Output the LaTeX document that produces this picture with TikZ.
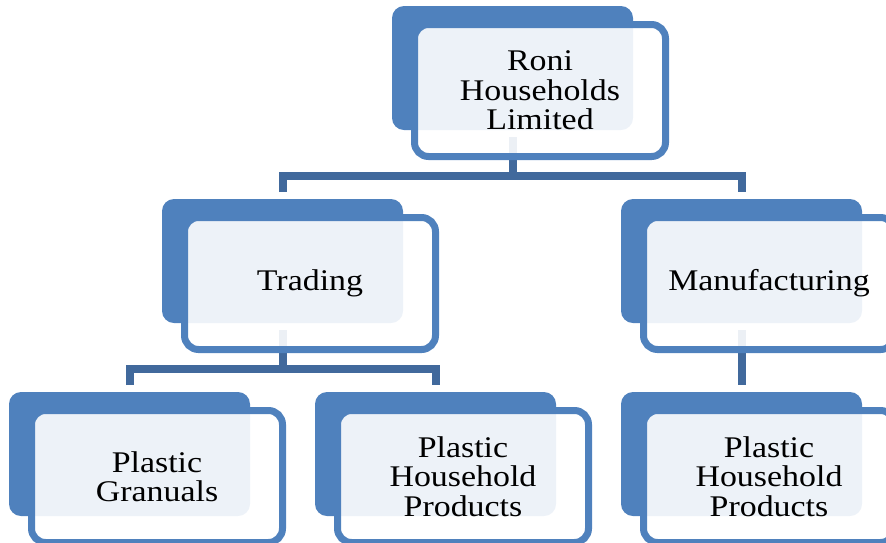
\documentclass[tikz,border=0pt]{standalone}
\usepackage{fontspec}
\setmainfont{Liberation Serif}[FakeStretch=1.13]
\definecolor{accent}{HTML}{4F81BD}
\definecolor{connblue}{HTML}{41699C}
\tikzset{
  backbox/.style={rectangle, rounded corners=12pt, fill=accent, draw=none,
    minimum width=241pt, minimum height=124pt, inner sep=0pt, outer sep=7pt},
  frontbox/.style={rectangle, rounded corners=14pt, draw=accent, line width=7pt,
    fill=white, fill opacity=0.9, text opacity=1,
    minimum width=251pt, minimum height=132pt, inner sep=0pt,
    align=center, font=\fontsize{30}{29.5}\selectfont},
  conn/.style={draw=connblue, line width=8pt, line cap=butt, line join=miter}
}
\begin{document}
\begin{tikzpicture}[x=1pt,y=-1pt]
\useasboundingbox (0,0) rectangle (886,542);
\clip (0,0) rectangle (886,542);
% back boxes
\node[backbox] (top) at (512.5,68) {};
\node[backbox] (trading) at (282.5,261) {};
\node[backbox] (manuf) at (741.5,261) {};
\node[backbox] (gran) at (129.5,454) {};
\node[backbox] (phpl) at (435.5,454) {};
\node[backbox] (phpr) at (741.5,454) {};
% bus coordinates
\coordinate (bus1) at (0,176);
\coordinate (bus2) at (0,369);
% connectors
\draw[conn] (top.south) -- (top.south |- bus1);
\draw[conn] (trading.north) -- (trading.north |- bus1) -- (manuf.north |- bus1) -- (manuf.north);
\draw[conn] (trading.south) -- (trading.south |- bus2);
\draw[conn] (gran.north) -- (gran.north |- bus2) -- (phpl.north |- bus2) -- (phpl.north);
\draw[conn] (manuf.south) -- (phpr.north);
% front boxes
\node[frontbox] (topf) at (540,90.5) {Roni\\Households\\Limited};
\node[frontbox] (tradingf) at (310,283.5) {Trading};
\node[frontbox] (manuff) at (769,283.5) {Manufacturing};
\node[frontbox] (granf) at (157,476.5) {Plastic\\Granuals};
\node[frontbox] (phplf) at (463,476.5) {Plastic\\Household\\Products};
\node[frontbox] (phprf) at (769,476.5) {Plastic\\Household\\Products};
\end{tikzpicture}
\end{document}
